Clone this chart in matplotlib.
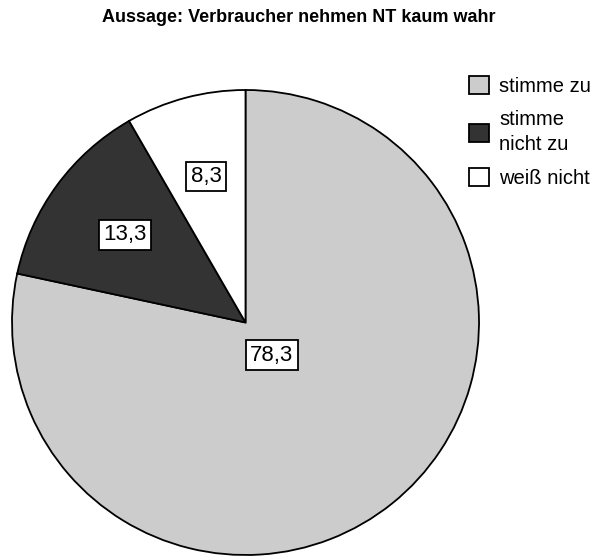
import numpy as np
import matplotlib
matplotlib.use("Agg")
import matplotlib.pyplot as plt

# data
categories = ["stimme zu", "stimme\nnicht zu", "weiß nicht"]
values = [78.3, 13.3, 8.3]
value_labels = ["78,3", "13,3", "8,3"]
colors = ["#cccccc", "#333333", "#ffffff"]
label_dist = [0.18, 0.64, 0.65]

plt.rcParams['font.family'] = ['Liberation Sans', 'DejaVu Sans']

fig = plt.figure(figsize=(5.97, 5.56), dpi=100)
ax = fig.add_axes([12 / 597, 1 / 556, 467 / 597, 465 / 556])

wedges, _ = ax.pie(values, colors=colors, startangle=90, counterclock=False,
                   radius=1.0, wedgeprops=dict(edgecolor="black", linewidth=1.3))
ax.set_xlim(-1, 1)
ax.set_ylim(-1, 1)
ax.set_aspect("auto")
ax.axis("off")

# value boxes at the middle angle of each wedge
for w, txt, d in zip(wedges, value_labels, label_dist):
    mid = np.deg2rad((w.theta1 + w.theta2) / 2)
    ax.text(d * np.cos(mid), d * np.sin(mid), txt, ha="center", va="center",
            fontsize=16,
            bbox=dict(boxstyle="square,pad=0.2", facecolor="white",
                      edgecolor="black", linewidth=1.3))

fig.text(0.5, 1 - 18 / 556, "Aussage: Verbraucher nehmen NT kaum wahr",
         ha="center", va="center", fontsize=13, fontweight="bold")

leg = ax.legend(wedges, categories, loc="upper left",
                bbox_to_anchor=(469 / 597, 1 - 76 / 556), bbox_transform=fig.transFigure,
                frameon=False, fontsize=14.5, handlelength=1.0, handleheight=1.0,
                handletextpad=0.5, labelspacing=0.7, borderpad=0, borderaxespad=0)
for t in leg.get_texts():
    t.set_linespacing(1.4)

fig.savefig("out.png", dpi=100)
